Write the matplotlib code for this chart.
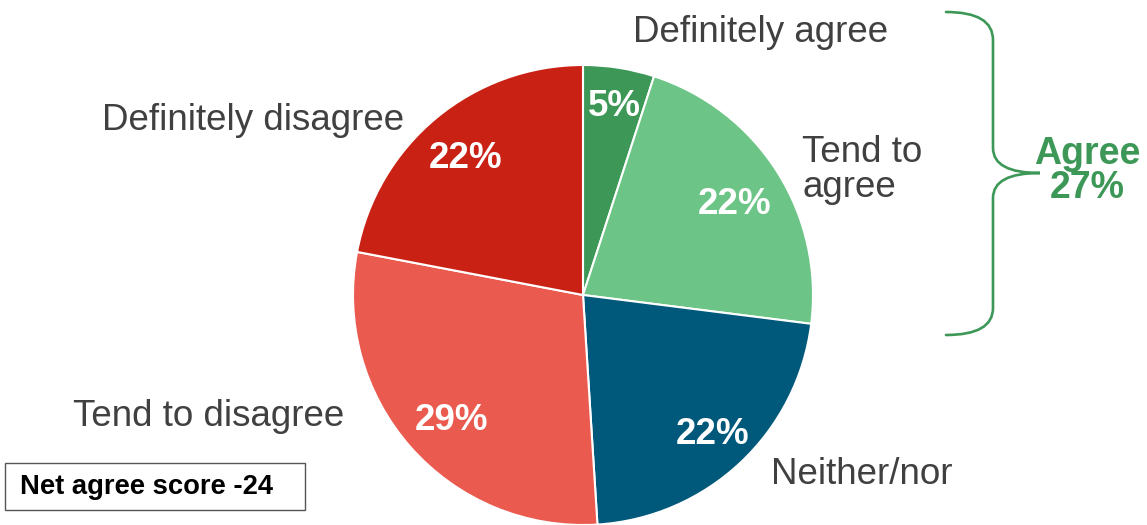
import matplotlib.pyplot as plt
from matplotlib.patches import Rectangle, PathPatch
from matplotlib.path import Path

plt.rcParams['font.family'] = ['Liberation Sans', 'DejaVu Sans']

categories = ["Definitely agree", "Tend to agree", "Neither/nor",
              "Tend to disagree", "Definitely disagree"]
values = [5, 22, 22, 29, 22]
colors = ["#3d9857", "#6cc486", "#00587a", "#ea5a4f", "#c92214"]
agree_total = values[0] + values[1]
net_score = -24

fig = plt.figure(figsize=(11.47, 5.25), dpi=100)
ax = fig.add_axes([0, 0, 1, 1])

# work in pixel units, y pointing up
cx, cy, r = 583, 230, 230
ax.pie(values, colors=colors, startangle=90, counterclock=False,
       center=(cx, cy), radius=r,
       wedgeprops=dict(edgecolor="white", linewidth=1.5))
ax.set_xlim(0, 1147)
ax.set_ylim(0, 525)
ax.set_aspect("equal")
ax.axis("off")

# percentage labels inside the slices
pct_pos = [(614, 419), (735, 320), (713, 90), (452, 104), (466, 367)]
for v, (x, y) in zip(values, pct_pos):
    ax.text(x, y, f"{v}%", color="white", fontsize=26.5, fontweight="bold",
            ha="center", va="center")

# category labels outside
text_col = "#404040"
lab_pos = [(633, 492, "left"), (802, 355, "left"), (771, 50, "left"),
           (344, 109, "right"), (404, 405, "right")]
lab_txt = ["Definitely agree", "Tend to\nagree", "Neither/nor",
           "Tend to disagree", "Definitely disagree"]
for t, (x, y, ha) in zip(lab_txt, lab_pos):
    ax.text(x, y, t, color=text_col, fontsize=26.5, ha=ha, va="center",
            linespacing=1.0)

# curly brace for the agree group
green = "#3d9857"
verts = [(946, 513), (993, 513), (993, 485),
         (993, 377),
         (993, 352), (1040, 352),
         (993, 352), (993, 327),
         (993, 217),
         (993, 190), (946, 190)]
codes = [Path.MOVETO, Path.CURVE3, Path.CURVE3,
         Path.LINETO,
         Path.CURVE3, Path.CURVE3,
         Path.CURVE3, Path.CURVE3,
         Path.LINETO,
         Path.CURVE3, Path.CURVE3]
ax.add_patch(PathPatch(Path(verts, codes), fill=False, edgecolor=green,
                       linewidth=1.9, capstyle="round"))
ax.text(1087, 354, f"Agree\n{agree_total}%", color=green, fontsize=27,
        fontweight="bold", ha="center", va="center", linespacing=0.9)

# net score box
ax.add_patch(Rectangle((5, 15), 300, 47, fill=False, edgecolor="#555555",
                       linewidth=1))
ax.text(20, 37.5, f"Net agree score {net_score}", color="black", fontsize=19.7,
        fontweight="bold", ha="left", va="center")

fig.savefig("out.png", dpi=100)
